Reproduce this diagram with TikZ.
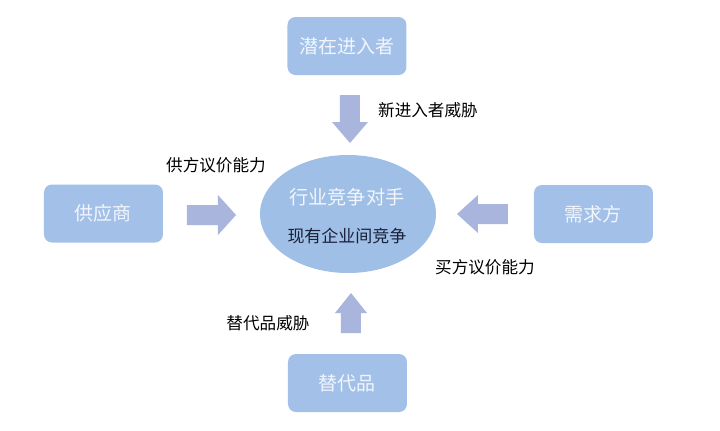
\documentclass[tikz,border=0pt]{standalone}
\usepackage{fontspec}
\setmainfont{Noto Sans CJK SC}
\usetikzlibrary{shapes.geometric}

\definecolor{boxblue}{RGB}{163,193,232}
\definecolor{ellblue}{RGB}{159,191,230}
\definecolor{arrblue}{RGB}{170,181,222}
\definecolor{boxtext}{RGB}{242,246,252}
\definecolor{darktext}{RGB}{24,32,58}

\tikzset{
  force/.style={fill=boxblue, rounded corners=4pt, minimum width=59.5pt, minimum height=29pt,
    text=boxtext, font=\fontsize{9.5}{11}\selectfont, inner sep=0pt},
  label/.style={text=black, font=\fontsize{8.3}{10}\selectfont, inner sep=0pt},
  arr/.style={fill=arrblue}
}

\begin{document}
\begin{tikzpicture}[x=0.5pt, y=-0.5pt]
  \useasboundingbox[fill=white] (0,0) rectangle (720,430);

  % five forces
  \node[force] (entrant) at (347,46) {潜在进入者};
  \node[force] (supplier) at (103.5,213.5) {供应商};
  \node[force] (buyer) at (593.5,214) {需求方};
  \node[force] (subst) at (347.5,383) {替代品};

  \node[ellipse, fill=ellblue, inner sep=0pt, minimum width=88pt, minimum height=59pt] (rivalry) at (348,214) {};
  \node[text=boxtext, font=\fontsize{9.6}{11}\selectfont] (rivtitle) at (347,197) {行业竞争对手};
  \node[text=darktext, font=\fontsize{8.5}{10}\selectfont] (rivtext) at (347,236) {现有企业间竞争};

  % block arrows
  \fill[arr] (340,95) -- (360,95) -- (360,122) -- (368,122) -- (350,143) -- (332,122) -- (340,122) -- cycle;
  \fill[arr] (187,205) -- (218,205) -- (218,195) -- (236,215) -- (218,235) -- (218,225) -- (187,225) -- cycle;
  \fill[arr] (508,204) -- (478,204) -- (478,195) -- (457,214) -- (478,233) -- (478,224) -- (508,224) -- cycle;
  \fill[arr] (341,333) -- (361,333) -- (361,313) -- (367,313) -- (351,293) -- (335,313) -- (341,313) -- cycle;

  % labels
  \node[label] (newthreat) at (428,110) {新进入者威胁};
  \node[label] (supppower) at (216,165) {供方议价能力};
  \node[label] (buypower) at (485,267) {买方议价能力};
  \node[label] (substhreat) at (268,323) {替代品威胁};
\end{tikzpicture}
\end{document}
